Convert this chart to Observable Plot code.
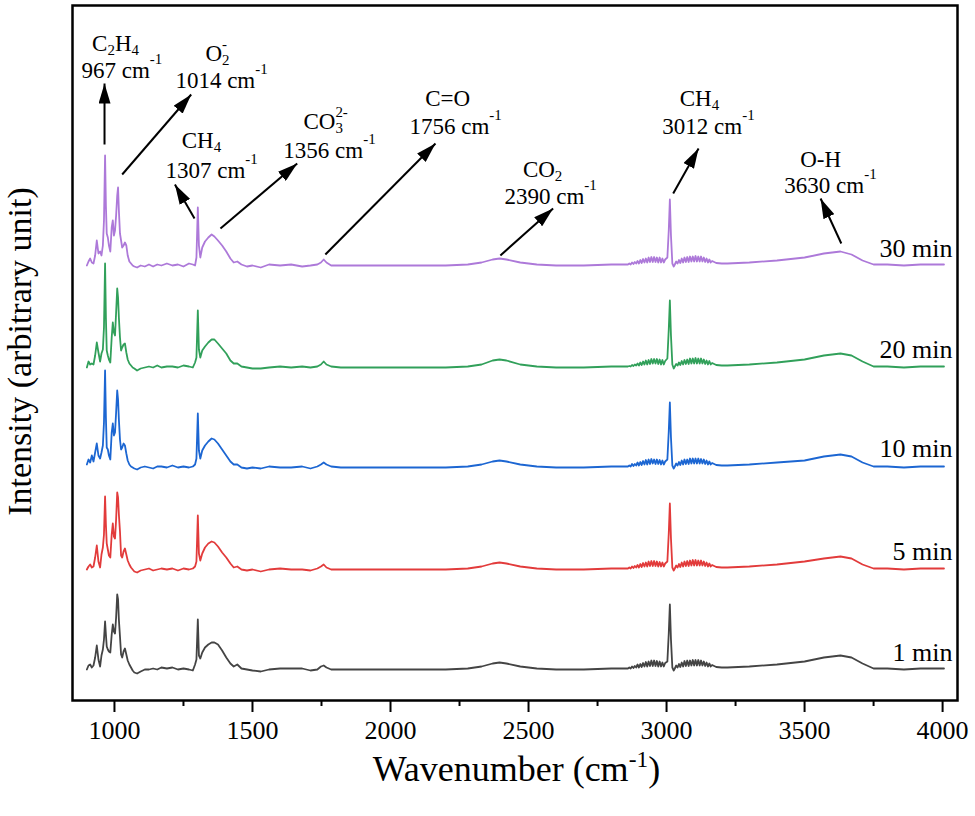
<!DOCTYPE html>
<html>
<head>
<meta charset="utf-8">
<script src="https://cdn.jsdelivr.net/npm/d3@7"></script>
<script src="https://cdn.jsdelivr.net/npm/@observablehq/plot@0.6"></script>
<style>
  html, body { margin: 0; padding: 0; background: #fff; }
  svg { display: block; }
</style>
</head>
<body>
<div id="chart"></div>
<script>
// ---------- data ----------
const wavenumber = [
  900,906,912,918,924,930,936,942,948,953,958,962,966,969,972,976,980,985,990,994,998,1002,1006,1010,1013,1016,1020,1024,1028,1033,1038,1043,1048,1054,1060,1066,1072,
  1082,1095,1110,1125,1140,1155,1170,1190,1210,1230,1250,1270,1284,
  1292,1297,1302,1306,1311,1318,1328,1340,1352,1362,1375,1390,1405,1420,1432,1445,1460,
  1480,1500,1530,1560,1600,1640,1680,1710,1735,1748,1758,1768,1785,1820,1900,2000,
  2100,2200,2280,2330,2370,2395,2420,2470,2530,2600,2700,2800,2850,
  2860,2865,2870,2875,2880,2885,2890,2895,2900,2905,2910,2915,2920,2925,2930,2935,2940,2945,2950,2955,2960,2965,2970,2975,2980,2985,2990,2995,
  3003,3008,3012,3016,3021,3026,
  3030,3035,3040,3045,3050,3055,3060,3065,3070,3075,3080,3085,3090,3095,3100,3105,3110,3115,3120,3125,3130,3135,3140,3145,3150,3155,3160,3165,3180,3200,
  3220,3300,3400,3500,3570,3630,3670,3710,3750,3800,3860,3920,4005
];

const min1 = [
  0,4,5,2,4,12,24,10,3,14,20,30,48,35,23,20,18,17,35,45,38,36,52,75,70,50,33,15,12,18,21,15,9,5,2,-1,-3,
  -4,-2,0,0,1,0,2,1,2,0,1,0,-1,
  5,10,50,14,11,17,22,25,27,27,25,19,12,6,3,5,1,
  0,-1,-2,0,1,1,1,-1,0,3,4,2,0,0,0,0,
  0,0,1,3,6,7,6,3,1,0,0,1,1,
  1,2,1,3,1.5,3.5,2,5,2,5.5,2.5,6.5,3,7.5,3,8,3.5,9,3.5,9,3.5,8.5,3,8,3,7,3,6.5,
  8,36,65,30,2,-1,
  1,4,2,5.5,2.5,7,3,8.5,3.5,9,3.5,9,4,9.5,4,9.5,4,9.5,4,9,4,8,3.5,7,3,6,3,4.5,2.5,2,
  2,3,5,8,12,14,12,6,1,1,0,1,1
];
const min5 = [
  0,3,5,2,3,12,24,8,2,15,22,35,73,45,26,20,14,12,35,46,33,31,50,77,72,55,38,14,12,18,21,15,9,5,2,0,-2,
  -3,-1,0,1,-1,0,1,0,1,-1,1,0,1,
  3,8,54,16,9,16,22,26,28,27,23,17,12,6,2,3,0,
  -1,0,-2,0,1,0,0,-1,1,3,5,2,0,0,0,0,
  0,0,1,3,6,7,6,3,1,0,0,1,1,
  1,2,1,3,1.5,3.5,2,4.5,2,5.5,2.5,6.5,3,7,3,8,3.5,8.5,3.5,8.5,3.5,8,3,7.5,3,7,3,6,
  8,36,66,31,2,-1,
  1,4,2,5.5,2.5,7,3,8,3.5,8.5,3.5,9,4,9.5,4,9.5,4,9,4,9,4,8,3.5,7,3,6,3,4.5,2.5,2,
  2,3,5,8,11,13,11,5,1,1,0,1,1
];
const min10 = [
  3,8,5,12,6,15,24,12,9,15,22,45,97,50,20,18,12,8,35,44,32,35,55,77,68,48,28,18,20,24,22,14,7,3,1,0,-1,
  -2,0,1,0,-1,1,1,0,2,0,1,0,1,
  3,9,54,17,9,17,22,26,29,28,24,18,12,6,3,3,0,
  -1,0,-1,1,0,0,1,-1,1,3,5,3,1,0,0,0,
  0,0,1,3,6,7,6,3,1,0,0,1,1,
  1,2,1,3.5,1.5,3.5,2,5,2,5.5,2.5,6.5,3,7.5,3,8,3.5,8.5,4,8,3.5,8,3.5,7.5,3,7,3,6,
  8,36,65,30,2,-1,
  1,4,2,5.5,2.5,7,3,8,3.5,8,3.5,9,4,9,4,9,4,9,4,8.5,4,8,3.5,7,3,6,3,4.5,2.5,2,
  2,3,5,7,11,13,11,5,1,1,0,1,1
];
const min20 = [
  0,6,3,4,3,12,25,15,6,14,18,40,104,50,17,12,8,5,30,45,35,32,55,79,70,50,30,17,20,23,24,15,8,4,2,0,-1,
  -3,-1,0,1,0,2,0,1,1,0,2,1,0,
  5,10,57,18,10,17,21,25,28,28,24,19,14,7,4,4,1,
  0,-1,-1,0,1,0,1,0,1,3,6,3,1,0,0,0,
  0,0,1,3,7,8,7,3,1,0,0,1,1,
  1,1.5,1,2.5,1.5,3,2,4,2,5,2.5,6,3,7,3,7.5,3.5,8.5,4,8.5,4,8.5,3.5,8,3,7.5,3,6.5,
  9,38,67,32,3,-1,
  1,3.5,2,5,2.5,6.5,3,7.5,3.5,8,3.5,9,4,9,4,9.5,4,9,4,9,4,8,3.5,7,3,6.5,3,4.5,2.5,2,
  2,3,5,8,12,14,12,6,1,1,0,1,1
];
const min30 = [
  0,4,7,3,2,10,25,12,14,10,20,45,110,60,32,28,20,14,38,45,30,35,50,70,78,55,32,25,18,20,23,20,10,4,2,0,-1,
  -2,0,-1,1,-1,1,0,2,0,1,-1,2,1,
  0,8,58,20,8,18,24,28,31,29,25,20,14,7,3,4,1,
  -1,0,-2,1,0,1,-1,0,1,3,6,3,0,0,0,0,
  0,0,1,3,6,7,6,3,1,0,0,1,1,
  1,2,1,3,1.5,3.5,2,4.5,2,5.5,2.5,6.5,3,7,3,8,3.5,8.5,3.5,8.5,3.5,8,3,8,3,7,3,6,
  8,35,66,30,2,-1,
  1,4,2,5.5,2.5,7,3,8,3.5,8.5,3.5,9,4,9,4,9.5,4,9,4,9,4,8,3.5,7,3,6,3,4.5,2.5,2,
  2,3,5,8,12,14,11,5,1,1,0,1,1
];

const seriesNames   = ["1 min", "5 min", "10 min", "20 min", "30 min"];
const seriesColors  = ["#444444", "#e23b3b", "#1c66d2", "#31a05a", "#ad79d9"];
const seriesOffsets = [0, 100, 202, 302, 404];
const seriesLabelY  = [9, 110, 213, 312, 413];
const seriesLabelX  = 4036;

const majorTicks = [1000, 1500, 2000, 2500, 3000, 3500, 4000];
const minorTicks = [1250, 1750, 2250, 2750, 3250, 3750];

const annotationText = ["C_{2}H_{4}", "967 cm^{-1}", "O_{2}^{-}", "1014 cm^{-1}", "CH_{4}", "1307 cm^{-1}",
  "CO_{3}^{2-}", "1356 cm^{-1}", "C=O", "1756 cm^{-1}", "CO_{2}", "2390 cm^{-1}", "CH_{4}", "3012 cm^{-1}",
  "O-H", "3630 cm^{-1}"];
const annotationX = [1004, 1027, 1373, 1388, 1315, 1352, 1765, 1779, 2207, 2236, 2551, 2580, 3119, 3152, 3558, 3594];
const annotationY = [619, 592, 609, 582, 522, 492, 541, 512, 564, 536, 493, 466, 564, 536, 503, 477];

const arrowX1 = [964, 1028, 1290, 1384, 1764, 2398, 3024, 3633];
const arrowY1 = [525, 495, 451, 441, 415, 414, 476, 426];
const arrowX2 = [964, 1278, 1219, 1662, 2163, 2589, 3116, 3558];
const arrowY2 = [586, 575, 485, 506, 526, 461, 521, 471];

// ---------- build tables ----------
const seriesValues = [min1, min5, min10, min20, min30];
const rows = seriesValues.flatMap((vals, i) =>
  vals.map((v, j) => ({series: seriesNames[i], x: wavenumber[j], y: v + seriesOffsets[i]})));
const arrows = arrowX1.map((_, i) => ({x1: arrowX1[i], y1: arrowY1[i], x2: arrowX2[i], y2: arrowY2[i]}));
const annotations = annotationText.map((t, i) => ({text: t, x: annotationX[i], y: annotationY[i]}));
const seriesLabels = seriesNames.map((n, i) => ({text: n, x: seriesLabelX, y: seriesLabelY[i]}));

const serif = "'Liberation Serif', 'Times New Roman', Times, serif";

const svg = Plot.plot({
  width: 975,
  height: 816,
  marginLeft: 72,
  marginRight: 18,
  marginTop: 5,
  marginBottom: 116,
  style: {fontFamily: serif, background: "white", color: "black"},
  x: {domain: [848, 4054]},
  y: {domain: [-31, 664], axis: null},
  color: {domain: seriesNames, range: seriesColors},
  marks: [
    Plot.line(rows, {x: "x", y: "y", z: "series", stroke: "series", strokeWidth: 1.8, strokeLinejoin: "round"}),
    Plot.link(arrows, {x1: "x1", y1: "y1", x2: "x2", y2: "y2", stroke: "black", strokeWidth: 2}),
    Plot.text(annotations, {x: "x", y: "y", text: "text", fontSize: 23, fontFamily: serif, fill: "black",
      textAnchor: "middle", lineAnchor: "bottom"}),
    Plot.text(seriesLabels, {x: "x", y: "y", text: "text", fontSize: 26, fontFamily: serif, fill: "black",
      textAnchor: "end", lineAnchor: "bottom"}),
    Plot.text(["Wavenumber (cm^{-1})"], {x: 2456, y: -111, text: d => d, fontSize: 36, fontFamily: serif,
      fill: "black", textAnchor: "middle", lineAnchor: "bottom"}),
    Plot.text(["Intensity (arbitrary unit)"], {x: 699, y: 318, text: d => d, rotate: -90, fontSize: 34,
      fontFamily: serif, fill: "black", textAnchor: "middle", lineAnchor: "bottom"}),
    Plot.axisX({ticks: majorTicks, tickSize: 12, tickPadding: 8, tickFormat: d => String(d), fontSize: 26,
      fontFamily: serif, color: "black", strokeWidth: 2, label: null}),
    Plot.axisX({ticks: minorTicks, tickSize: 6, tickFormat: () => "", color: "black", strokeWidth: 2, label: null}),
    Plot.frame({stroke: "black", strokeWidth: 2.5})
  ]
});

document.getElementById("chart").append(svg);

// ---------- arrow heads ----------
const sel = d3.select(svg);
const defs = sel.insert("defs", ":first-child");
defs.append("marker")
  .attr("id", "ah")
  .attr("viewBox", "0 0 20 12")
  .attr("refX", 20).attr("refY", 6)
  .attr("markerWidth", 20).attr("markerHeight", 12)
  .attr("markerUnits", "userSpaceOnUse")
  .attr("orient", "auto")
  .append("path").attr("d", "M0,0L20,6L0,12Z").attr("fill", "black");
sel.selectAll('g[aria-label="link"] path, g[aria-label="link"] line').attr("marker-end", "url(#ah)");

// ---------- sub/superscripts ----------
sel.selectAll("text").each(function () {
  const raw = this.textContent;
  if (!/[_^]\{/.test(raw)) return;
  const fs = parseFloat(getComputedStyle(this).fontSize) || 23;
  const supRaise = fs > 30 ? 0.38 : 0.6;
  const parts = raw.match(/_\{[^}]*\}|\^\{[^}]*\}|[^_^]+/g);
  this.textContent = "";
  let cur = 0, prev = null, prevNode = null;
  for (const p of parts) {
    let kind = "n", txt = p;
    if (p.startsWith("_{")) { kind = "sub"; txt = p.slice(2, -1); }
    else if (p.startsWith("^{")) { kind = "sup"; txt = p.slice(2, -1); }
    const t = document.createElementNS("http://www.w3.org/2000/svg", "tspan");
    t.textContent = txt;
    let target = 0, dx = 0;
    if (kind === "sub") { target = 0.2 * fs; t.setAttribute("font-size", 0.65 * fs); }
    if (kind === "sup") {
      t.setAttribute("font-size", 0.65 * fs);
      if (prev === "sub" && prevNode) { target = -0.5 * fs; dx = -prevNode.getComputedTextLength(); }
      else target = -supRaise * fs;
    }
    t.setAttribute("dy", target - cur);
    if (dx) t.setAttribute("dx", dx);
    cur = target;
    this.appendChild(t);
    prev = kind; prevNode = t;
  }
});
</script>
</body>
</html>
